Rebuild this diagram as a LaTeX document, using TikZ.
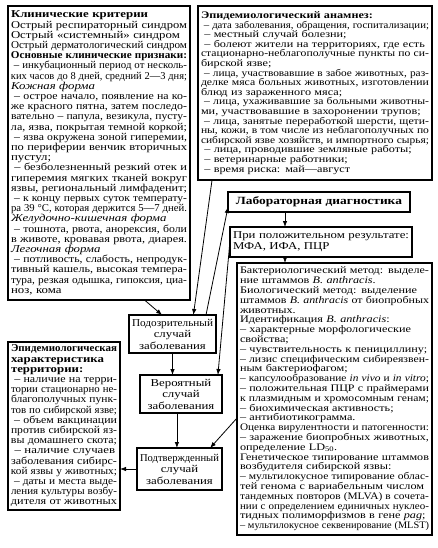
\documentclass[tikz,border=0pt]{standalone}
\usepackage{graphicx}
\usepackage{fontspec}
\setmainfont{Liberation Serif}[FakeStretch=1.22]
\usetikzlibrary{arrows.meta,calc}
\newcommand\jline[1]{\setbox0=\hbox{#1}\ifdim\wd0>\hsize\hbox to\hsize{\resizebox{\hsize}{\height}{#1}}\else\hbox to\hsize{#1}\fi\par}
\newcommand\lline[1]{\setbox0=\hbox{#1}\ifdim\wd0>\hsize\hbox to\hsize{\resizebox{\hsize}{\height}{#1}}\else\hbox to\hsize{#1\hfil}\fi\par}
\newcommand\cenline[1]{\setbox0=\hbox{#1}\ifdim\wd0>\hsize\hbox to\hsize{\resizebox{\hsize}{\height}{#1}}\else\hbox to\hsize{\hfil#1\hfil}\fi\par}
\begin{document}
\begin{tikzpicture}[x=1pt,y=-1pt,
  box/.style={draw,line width=1.2pt,anchor=north west,inner xsep=3pt,inner ysep=0pt,outer sep=0pt},
  casebox/.style={box,font=\fontsize{10.5}{11.5}\selectfont},
  arr/.style={-{Latex[length=6pt,width=4.5pt]},line width=0.8pt}]
\useasboundingbox[fill=white] (0,0) rectangle (437,548);

\node[box,text width=176pt,minimum height=294pt,font=\fontsize{10.5}{10.2}\selectfont] (clin) at (8,6) {%
\lline{\textbf{Клинические критерии}}
\lline{Острый респираторный синдром}
\lline{Острый «системный» синдром}
\lline{Острый дерматологический синдром}
\lline{\textbf{Основные клинические признаки:}}
\jline{\ – инкубационный период от несколь-}
\jline{ких часов до 8 дней, средний 2—3 дня;}
\lline{\textit{Кожная форма}}
\jline{\ – острое начало, появление на ко-}
\jline{же красного пятна, затем последо-}
\jline{вательно – папула, везикула, пусту-}
\lline{ла, язва, покрытая темной коркой;}
\jline{\ – язва окружена зоной гиперемии,}
\lline{по периферии венчик вторичных}
\lline{пустул;}
\jline{\ – безболезненный резкий отек и}
\lline{гиперемия мягких тканей вокруг}
\lline{язвы, региональный лимфаденит;}
\jline{\ – к концу первых суток температу-}
\jline{ра 39 °С, которая держится 5—7 дней.}
\lline{\textit{Желудочно-кишечная форма}}
\jline{\ – тошнота, рвота, анорексия, боли}
\lline{в животе, кровавая рвота, диарея.}
\lline{\textit{Легочная форма}}
\jline{\ – потливость, слабость, непродук-}
\jline{тивный кашель, высокая темпера-}
\jline{тура, резкая одышка, гипоксия, циа-}
\lline{ноз, кома}};

\node[box,text width=228pt,minimum height=174pt,font=\fontsize{10}{9.6}\selectfont] (anam) at (198,6) {%
\lline{\textbf{Эпидемиологический анамнез:}}
\lline{\ – дата заболевания, обращения, госпитализации;}
\lline{\ – местный случай болезни;}
\jline{\ – болеют жители на территориях, где есть}
\jline{стационарно-неблагополучные пункты по си-}
\lline{бирской язве;}
\jline{\ – лица, участвовавшие в забое животных, раз-}
\jline{делке мяса больных животных, изготовлении}
\lline{блюд из зараженного мяса;}
\jline{\ – лица, ухаживавшие за больными животны-}
\lline{ми, участвовавшие в захоронении трупов;}
\jline{\ – лица, занятые переработкой шерсти, щети-}
\jline{ны, кожи, в том числе из неблагополучных по}
\jline{сибирской язве хозяйств, и импортного сырья;}
\lline{\ – лица, проводившие земляные работы;}
\lline{\ – ветеринарные работники;}
\lline{\ – время риска: май—август}};

\node[box,text width=176pt,minimum height=20pt,font=\bfseries\fontsize{11}{12}\selectfont] (lab) at (228,192) {%
\cenline{Лабораторная диагностика}};

\node[box,text width=176pt,minimum height=30pt,font=\fontsize{10.5}{11}\selectfont] (pol) at (230,227) {%
\lline{При положительном результате:}
\lline{МФА, ИФА, ПЦР}};

\node[box,text width=189pt,minimum height=272pt,font=\fontsize{10}{9.8}\selectfont] (bact) at (237,263) {%
\jline{Бактериологический метод: выделе-}
\lline{ние штаммов \textit{B. anthracis}.}
\lline{Биологический метод: выделение}
\jline{штаммов \textit{B. anthracis} от биопробных}
\lline{животных.}
\lline{Идентификация \textit{B. anthracis}:}
\lline{– характерные морфологические}
\lline{свойства;}
\lline{– чувствительность к пенициллину;}
\jline{– лизис специфическим сибиреязвен-}
\lline{ным бактериофагом;}
\lline{– капсулообразование \textit{in vivo} и \textit{in vitro};}
\jline{– положительная ПЦР с праймерами}
\lline{к плазмидным и хромосомным генам;}
\lline{– биохимическая активность;}
\lline{– антибиотикограмма.}
\lline{Оценка вирулентности и патогенности:}
\jline{– заражение биопробных животных,}
\lline{определение LD\textsubscript{50}.}
\jline{Генетическое типирование штаммов}
\lline{возбудителя сибирской язвы:}
\jline{– мультилокусное типирование облас-}
\jline{тей генома с вариабельным числом}
\jline{тандемных повторов (MLVA) в сочета-}
\jline{нии с определением единичных нуклео-}
\lline{тидных полиморфизмов в гене \textit{pag};}
\lline{– мультилокусное секвенирование (MLST)}};

\node[casebox,text width=81pt,minimum height=38pt] (sus) at (129,315) {%
\cenline{Подозрительный}
\cenline{случай}
\cenline{заболевания}};
\node[casebox,text width=76pt,minimum height=38pt] (prob) at (140,375) {%
\cenline{Вероятный}
\cenline{случай}
\cenline{заболевания}};
\node[casebox,text width=79pt,minimum height=42pt] (conf) at (137,448) {%
\cenline{Подтвержденный}
\cenline{случай}
\cenline{заболевания}};

\node[box,text width=106pt,minimum height=168pt,font=\fontsize{10.5}{10.2}\selectfont] (epch) at (8,342) {%
\lline{\textbf{Эпидемиологическая}}
\lline{\textbf{характеристика}}
\lline{\textbf{территории:}}
\jline{\ – наличие на терри-}
\jline{тории стационарно не-}
\jline{благополучных пунк-}
\lline{тов по сибирской язве;}
\jline{\ – объем вакцинации}
\jline{против сибирской яз-}
\lline{вы домашнего скота;}
\jline{\ – наличие случаев}
\jline{заболевания сибирс-}
\lline{кой язвы у животных;}
\jline{\ – даты и места выде-}
\jline{ления культуры возбу-}
\lline{дителя от животных}};

\coordinate (lx) at (285,0);
\draw[arr] ($(clin.south west)!0.75!(clin.south east)$) -- ($(sus.north west)!0.38!(sus.north east)$);
\draw[arr] ($(anam.south west)!0.06!(anam.south east)$) -- ($(sus.north west)!0.74!(sus.north east)$);
\draw[arr] ($(sus.north west)!0.885!(sus.north east)$) -- ($(lab.north west)!0.75!(lab.south west)$);
\draw[arr] (lab.south -| lx) -- (pol.north -| lx);
\draw[arr] (pol.south -| lx) -- (bact.north -| lx);
\draw[arr] ($(pol.north west)!0.45!(pol.south west)$) -- ($(prob.north west)!0.95!(prob.north east)$);
\draw[arr] (sus.south) -- (sus.south |- prob.north);
\draw[arr] ($(prob.south west)!0.45!(prob.south east)$) coordinate (pb) -- (pb |- conf.north);
\draw[arr] ($(bact.north west)!0.57!(bact.south west)$) -- ($(conf.north west)!0.86!(conf.north east)$);
\draw[arr] (conf.west) -- (conf.west -| epch.east);
\end{tikzpicture}
\end{document}
